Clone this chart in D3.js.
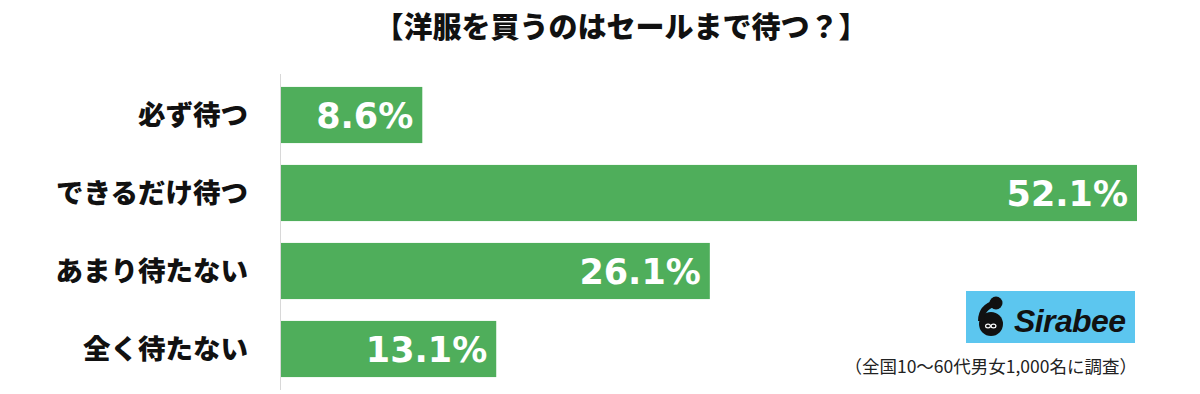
<!DOCTYPE html>
<html lang="ja">
<head>
<meta charset="UTF-8">
<title>洋服を買うのはセールまで待つ？</title>
<script src="https://d3js.org/d3.v7.min.js"></script>
<style>
  body { margin: 0; background: #ffffff; }
  svg { display: block; }
</style>
</head>
<body>
<svg id="chart" width="1200" height="394"></svg>
<script>
const categories = ['必ず待つ', 'できるだけ待つ', 'あまり待たない', '全く待たない'];
const values = [8.6, 52.1, 26.1, 13.1];
const title = '【洋服を買うのはセールまで待つ？】';
const note = '（全国10〜60代男女1,000名に調査）';

const svg = d3.select('#chart');
const jp = '"Noto Sans CJK JP", sans-serif';

const x = d3.scaleLinear().domain([0, 52.1]).range([281, 1137]);
const y = d3.scaleBand().domain(categories).range([76, 388]).paddingInner(0.28).paddingOuter(0.14);

svg.append('text')
  .attr('x', 621).attr('y', 38)
  .attr('text-anchor', 'middle')
  .style('font-family', jp).style('font-weight', 900).style('font-size', '29px')
  .attr('fill', '#111')
  .text(title);

// axis line
svg.append('line')
  .attr('x1', 280.5).attr('x2', 280.5)
  .attr('y1', 74).attr('y2', 390)
  .attr('stroke', '#d8d8d8').attr('stroke-width', 1);

svg.selectAll('rect.bar')
  .data(values)
  .join('rect')
  .attr('class', 'bar')
  .attr('x', x(0))
  .attr('y', (d, i) => y(categories[i]))
  .attr('width', d => x(d) - x(0))
  .attr('height', y.bandwidth())
  .attr('fill', '#4fae5b');

svg.selectAll('text.cat')
  .data(categories)
  .join('text')
  .attr('class', 'cat')
  .attr('x', 248)
  .attr('y', d => y(d) + y.bandwidth() / 2)
  .attr('dy', '0.36em')
  .attr('text-anchor', 'end')
  .style('font-family', jp).style('font-weight', 900).style('font-size', '27.5px')
  .attr('fill', '#111')
  .text(d => d);

svg.selectAll('text.val')
  .data(values)
  .join('text')
  .attr('class', 'val')
  .attr('x', d => x(d) - 9)
  .attr('y', (d, i) => y(categories[i]) + y.bandwidth() / 2)
  .attr('dy', '0.36em')
  .attr('text-anchor', 'end')
  .style('font-family', '"DejaVu Sans", sans-serif').style('font-weight', 700).style('font-size', '35px')
  .attr('fill', '#ffffff')
  .text(d => d.toFixed(1) + '%');

// Sirabee logo
const logo = svg.append('g').attr('transform', 'translate(966,291)');
logo.append('rect').attr('width', 169).attr('height', 52).attr('fill', '#5cc6ef');
logo.append('circle').attr('cx', 25).attr('cy', 33).attr('r', 12).attr('fill', '#111');
logo.append('circle').attr('cx', 30).attr('cy', 12).attr('r', 6.5).attr('fill', '#111');
logo.append('path').attr('d', 'M30 12 Q15 16 15 30').attr('stroke', '#111').attr('stroke-width', 6).attr('fill', 'none');
logo.append('ellipse').attr('cx', 22).attr('cy', 35).attr('rx', 2.4).attr('ry', 1.9).attr('fill', 'none').attr('stroke', '#fff').attr('stroke-width', 1.2);
logo.append('ellipse').attr('cx', 27.5).attr('cy', 35).attr('rx', 2.4).attr('ry', 1.9).attr('fill', 'none').attr('stroke', '#fff').attr('stroke-width', 1.2);
logo.append('text')
  .attr('x', 48).attr('y', 41)
  .attr('textLength', 112)
  .style('font-family', '"Liberation Sans", Arial, sans-serif').style('font-weight', 700)
  .style('font-style', 'italic').style('font-size', '32px')
  .attr('fill', '#111')
  .text('Sirabee');

svg.append('text')
  .attr('x', 1137).attr('y', 373)
  .attr('text-anchor', 'end')
  .style('font-family', jp).style('font-size', '17.5px')
  .attr('fill', '#222')
  .text(note);
</script>
</body>
</html>
